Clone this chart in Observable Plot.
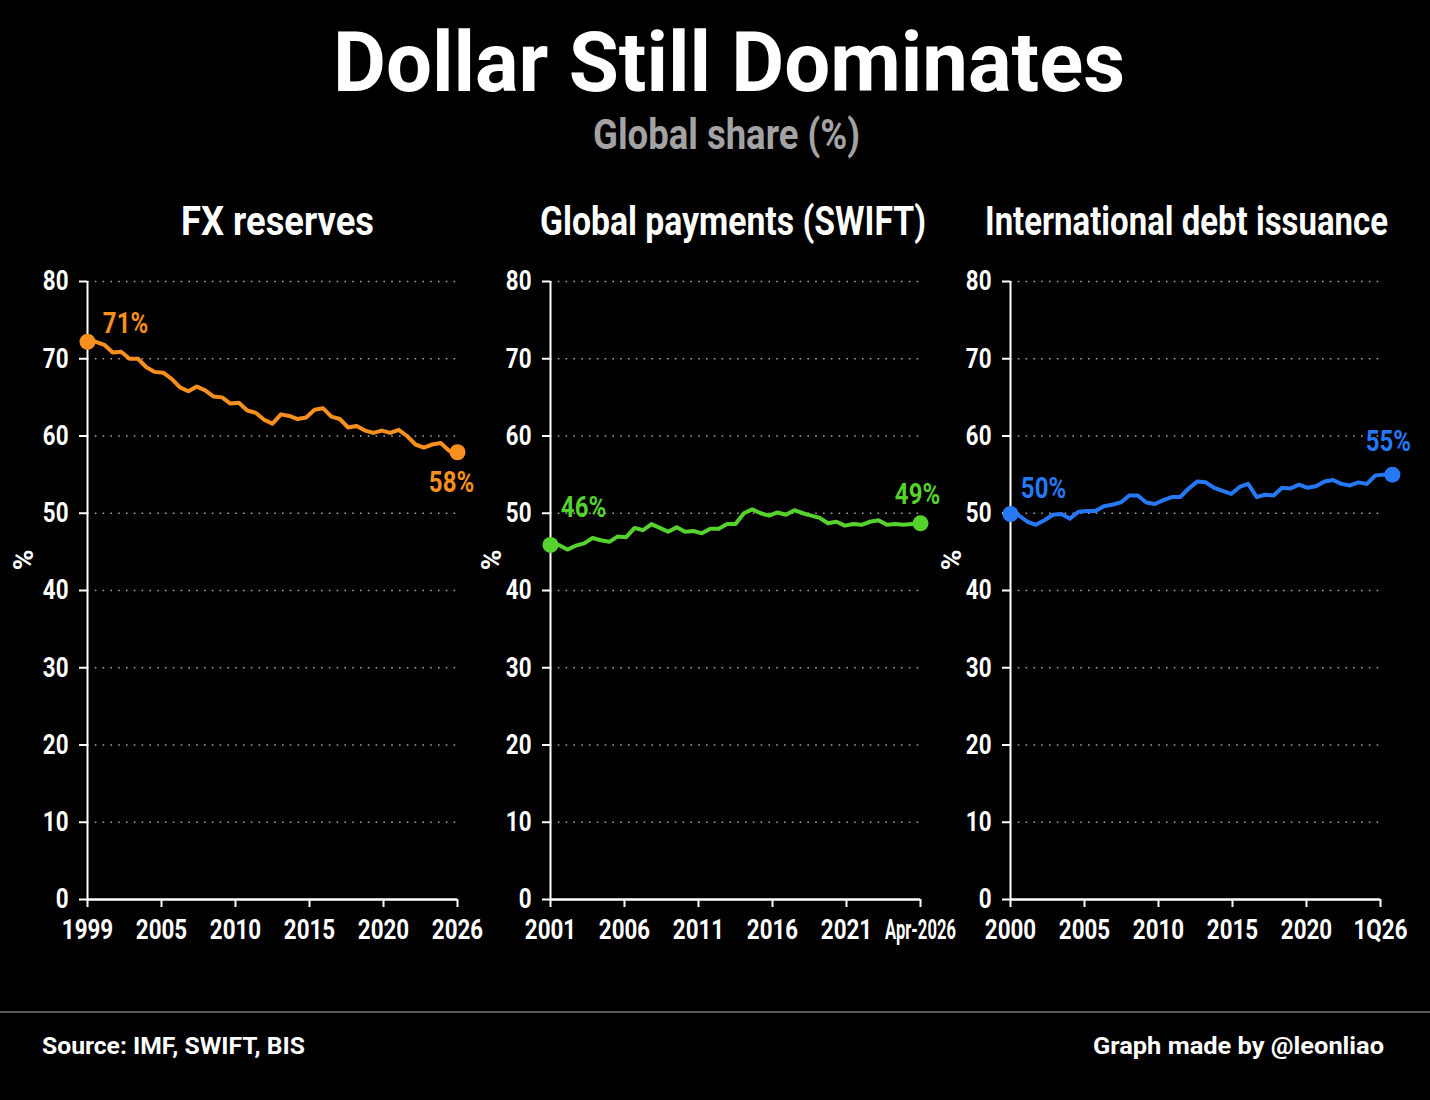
<!DOCTYPE html>
<html><head><meta charset="utf-8">
<script src="https://cdn.jsdelivr.net/npm/d3@7"></script>
<script src="https://cdn.jsdelivr.net/npm/@observablehq/plot@0.6"></script>
<style>
html,body{margin:0;padding:0;background:#000;}
#root{position:relative;width:1430px;height:1100px;background:#000;overflow:hidden;
  font-family:Roboto,"Liberation Sans",sans-serif;color:#fff;}
.abs{position:absolute;white-space:nowrap;line-height:1;transform-origin:0 0;}
.title{top:21px;font-size:84px;font-weight:700;color:#fff;}
.subtitle{top:114px;font-size:42px;font-weight:700;color:#a3a3a3;}
.ptitle{top:202px;font-size:40px;font-weight:700;color:#fff;}
.pct{font-size:28px;font-weight:700;color:#fff;transform-origin:50% 50%;transform:translate(-50%,-50%) rotate(-90deg);}
.rule{left:0;top:1011px;width:1430px;height:2px;background:#5a5a5a;}
.foot{top:1035px;font-size:23px;font-weight:700;color:#fff;}
.panel{position:absolute;top:260px;}
</style></head>
<body><div id="root">
<div class="abs title fit" data-x="333" data-w="792">Dollar Still Dominates</div>
<div class="abs subtitle fit" data-x="593" data-w="267">Global share (%)</div>
<div class="abs ptitle fit" data-x="181" data-w="193">FX reserves</div>
<div class="abs ptitle fit" data-x="540" data-w="386">Global payments (SWIFT)</div>
<div class="abs ptitle fit" data-x="985" data-w="403">International debt issuance</div>
<div class="abs pct" style="left:24px;top:560px">%</div>
<div class="abs pct" style="left:492px;top:560px">%</div>
<div class="abs pct" style="left:952px;top:560px">%</div>
<div class="abs rule"></div>
<div class="abs foot fit" data-x="42" data-w="263">Source: IMF, SWIFT, BIS</div>
<div class="abs foot fit" data-x="1093" data-w="291">Graph made by @leonliao</div>
<div id="p1" class="panel" style="left:0px"></div>
<div id="p2" class="panel" style="left:463px"></div>
<div id="p3" class="panel" style="left:923px"></div>
</div>
<script>
// ---- data (USD share, %) ----
const fxValues = [72.2,72.2,71.8,70.8,70.9,70.0,70.0,68.9,68.3,68.2,67.4,66.3,65.8,66.4,65.9,65.1,65.0,64.2,64.3,63.3,63.0,62.1,61.6,62.8,62.6,62.2,62.4,63.4,63.6,62.5,62.2,61.1,61.3,60.7,60.4,60.7,60.4,60.8,60.0,58.9,58.5,58.9,59.1,58.1,57.9];
const fxTicks = ["1999","2005","2010","2015","2020","2026"];
const fxLabels = ["71%","58%"];

const swiftValues = [45.9,45.9,45.3,45.8,46.1,46.8,46.5,46.3,47.0,46.9,48.1,47.8,48.6,48.1,47.6,48.2,47.6,47.7,47.4,48.0,48.0,48.6,48.6,50.0,50.5,50.0,49.7,50.1,49.8,50.4,50.0,49.7,49.4,48.7,48.9,48.4,48.6,48.5,48.9,49.1,48.5,48.6,48.5,48.6,48.7];
const swiftTicks = ["2001","2006","2011","2016","2021","Apr-2026"];
const swiftLabels = ["46%","49%"];

const debtValues = [49.9,49.7,48.9,48.5,49.1,49.8,49.9,49.3,50.2,50.3,50.3,50.9,51.1,51.4,52.3,52.3,51.4,51.2,51.7,52.1,52.1,53.2,54.1,54.0,53.3,52.9,52.5,53.4,53.8,52.1,52.4,52.3,53.3,53.2,53.7,53.3,53.5,54.1,54.3,53.8,53.6,54.0,53.8,54.9,55.0,55.0];
const debtTicks = ["2000","2005","2010","2015","2020","1Q26"];
const debtTickEnd = 43.6; // index position of the last tick label (series runs slightly past it)
const debtLabels = ["50%","55%"];

const yTicks = [0,10,20,30,40,50,60,70,80];
const gridTicks = [10,20,30,40,50,60,70,80];

const FONT = 'Roboto,"Liberation Sans",sans-serif';

function panel(values, ticks, tickEnd, color, labels, off, marginRight) {
  const data = values.map((v, i) => ({i, v}));
  const first = [data[0]], last = [data[data.length - 1]];
  const tickPos = ticks.map((t, k) => k * tickEnd / (ticks.length - 1));
  return Plot.plot({
    width: 87 + 370 + marginRight,
    height: 694,
    marginLeft: 87, marginRight, marginTop: 21, marginBottom: 55,
    style: {background: "transparent", color: "#fff", fontFamily: FONT, fontSize: "28px", fontWeight: 700, overflow: "visible"},
    x: {domain: [0, tickEnd]},
    y: {domain: [0, 80]},
    marks: [
      Plot.gridY(gridTicks, {stroke: "#a0a0a0", strokeOpacity: 1, strokeWidth: 1.6, strokeDasharray: "1.6,6.2"}),
      Plot.axisY(yTicks, {tickSize: 8, tickPadding: 11, stroke: "#fff", strokeWidth: 2, label: null, fontSize: 28}),
      Plot.axisX(tickPos, {tickSize: 8, tickPadding: 12, stroke: "#fff", strokeWidth: 2, label: null, fontSize: 28,
        tickFormat: (d, k) => ticks[k]}),
      Plot.ruleX([0], {y1: 0, y2: 80, stroke: "#fff", strokeWidth: 2}),
      Plot.ruleY([0], {stroke: "#fff", strokeWidth: 2.5}),
      Plot.line(data, {x: "i", y: "v", stroke: color, strokeWidth: 4, strokeLinejoin: "round"}),
      Plot.dot([...first, ...last], {x: "i", y: "v", r: 8, fill: color, stroke: null}),
      Plot.text(first, {x: "i", y: "v", text: () => labels[0], dx: off[0], dy: off[1], fill: color, fontSize: 30, fontWeight: 700}),
      Plot.text(last, {x: "i", y: "v", text: () => labels[1], dx: off[2], dy: off[3], fill: color, fontSize: 30, fontWeight: 700})
    ]
  });
}

// narrow every SVG text horizontally around its anchor (condensed look)
function condense(svg, maxW) {
  svg.querySelectorAll("text").forEach(t => {
    const w = t.getBBox().width;
    let f = 0.8;
    if (w * f > maxW) f = maxW / w;
    const x = parseFloat(t.getAttribute("x")) || 0;
    t.removeAttribute("x");
    const tr = t.getAttribute("transform") || "";
    t.setAttribute("transform", `${tr} translate(${x},0) scale(${f},1)`);
  });
}

function fit() {
  document.querySelectorAll(".fit").forEach(el => {
    el.style.transform = "none";
    const w = el.getBoundingClientRect().width;
    el.style.left = el.dataset.x + "px";
    el.style.transform = `scaleX(${(+el.dataset.w) / w})`;
  });
}

const specs = [
  ["p1", fxValues, fxTicks, fxValues.length - 1, "#f7901e", fxLabels, [38, -18, -6, 30], 30],
  ["p2", swiftValues, swiftTicks, swiftValues.length - 1, "#55d22d", swiftLabels, [33, -38, -3, -29], 30],
  ["p3", debtValues, debtTicks, debtTickEnd, "#2678f5", debtLabels, [33, -26, -4, -33], 45]
];
for (const [id, ...args] of specs) {
  const svg = panel(...args);
  document.getElementById(id).append(svg);
  condense(svg, 71);
}
fit();
if (document.fonts && document.fonts.ready) document.fonts.ready.then(fit);
</script>
</body></html>
